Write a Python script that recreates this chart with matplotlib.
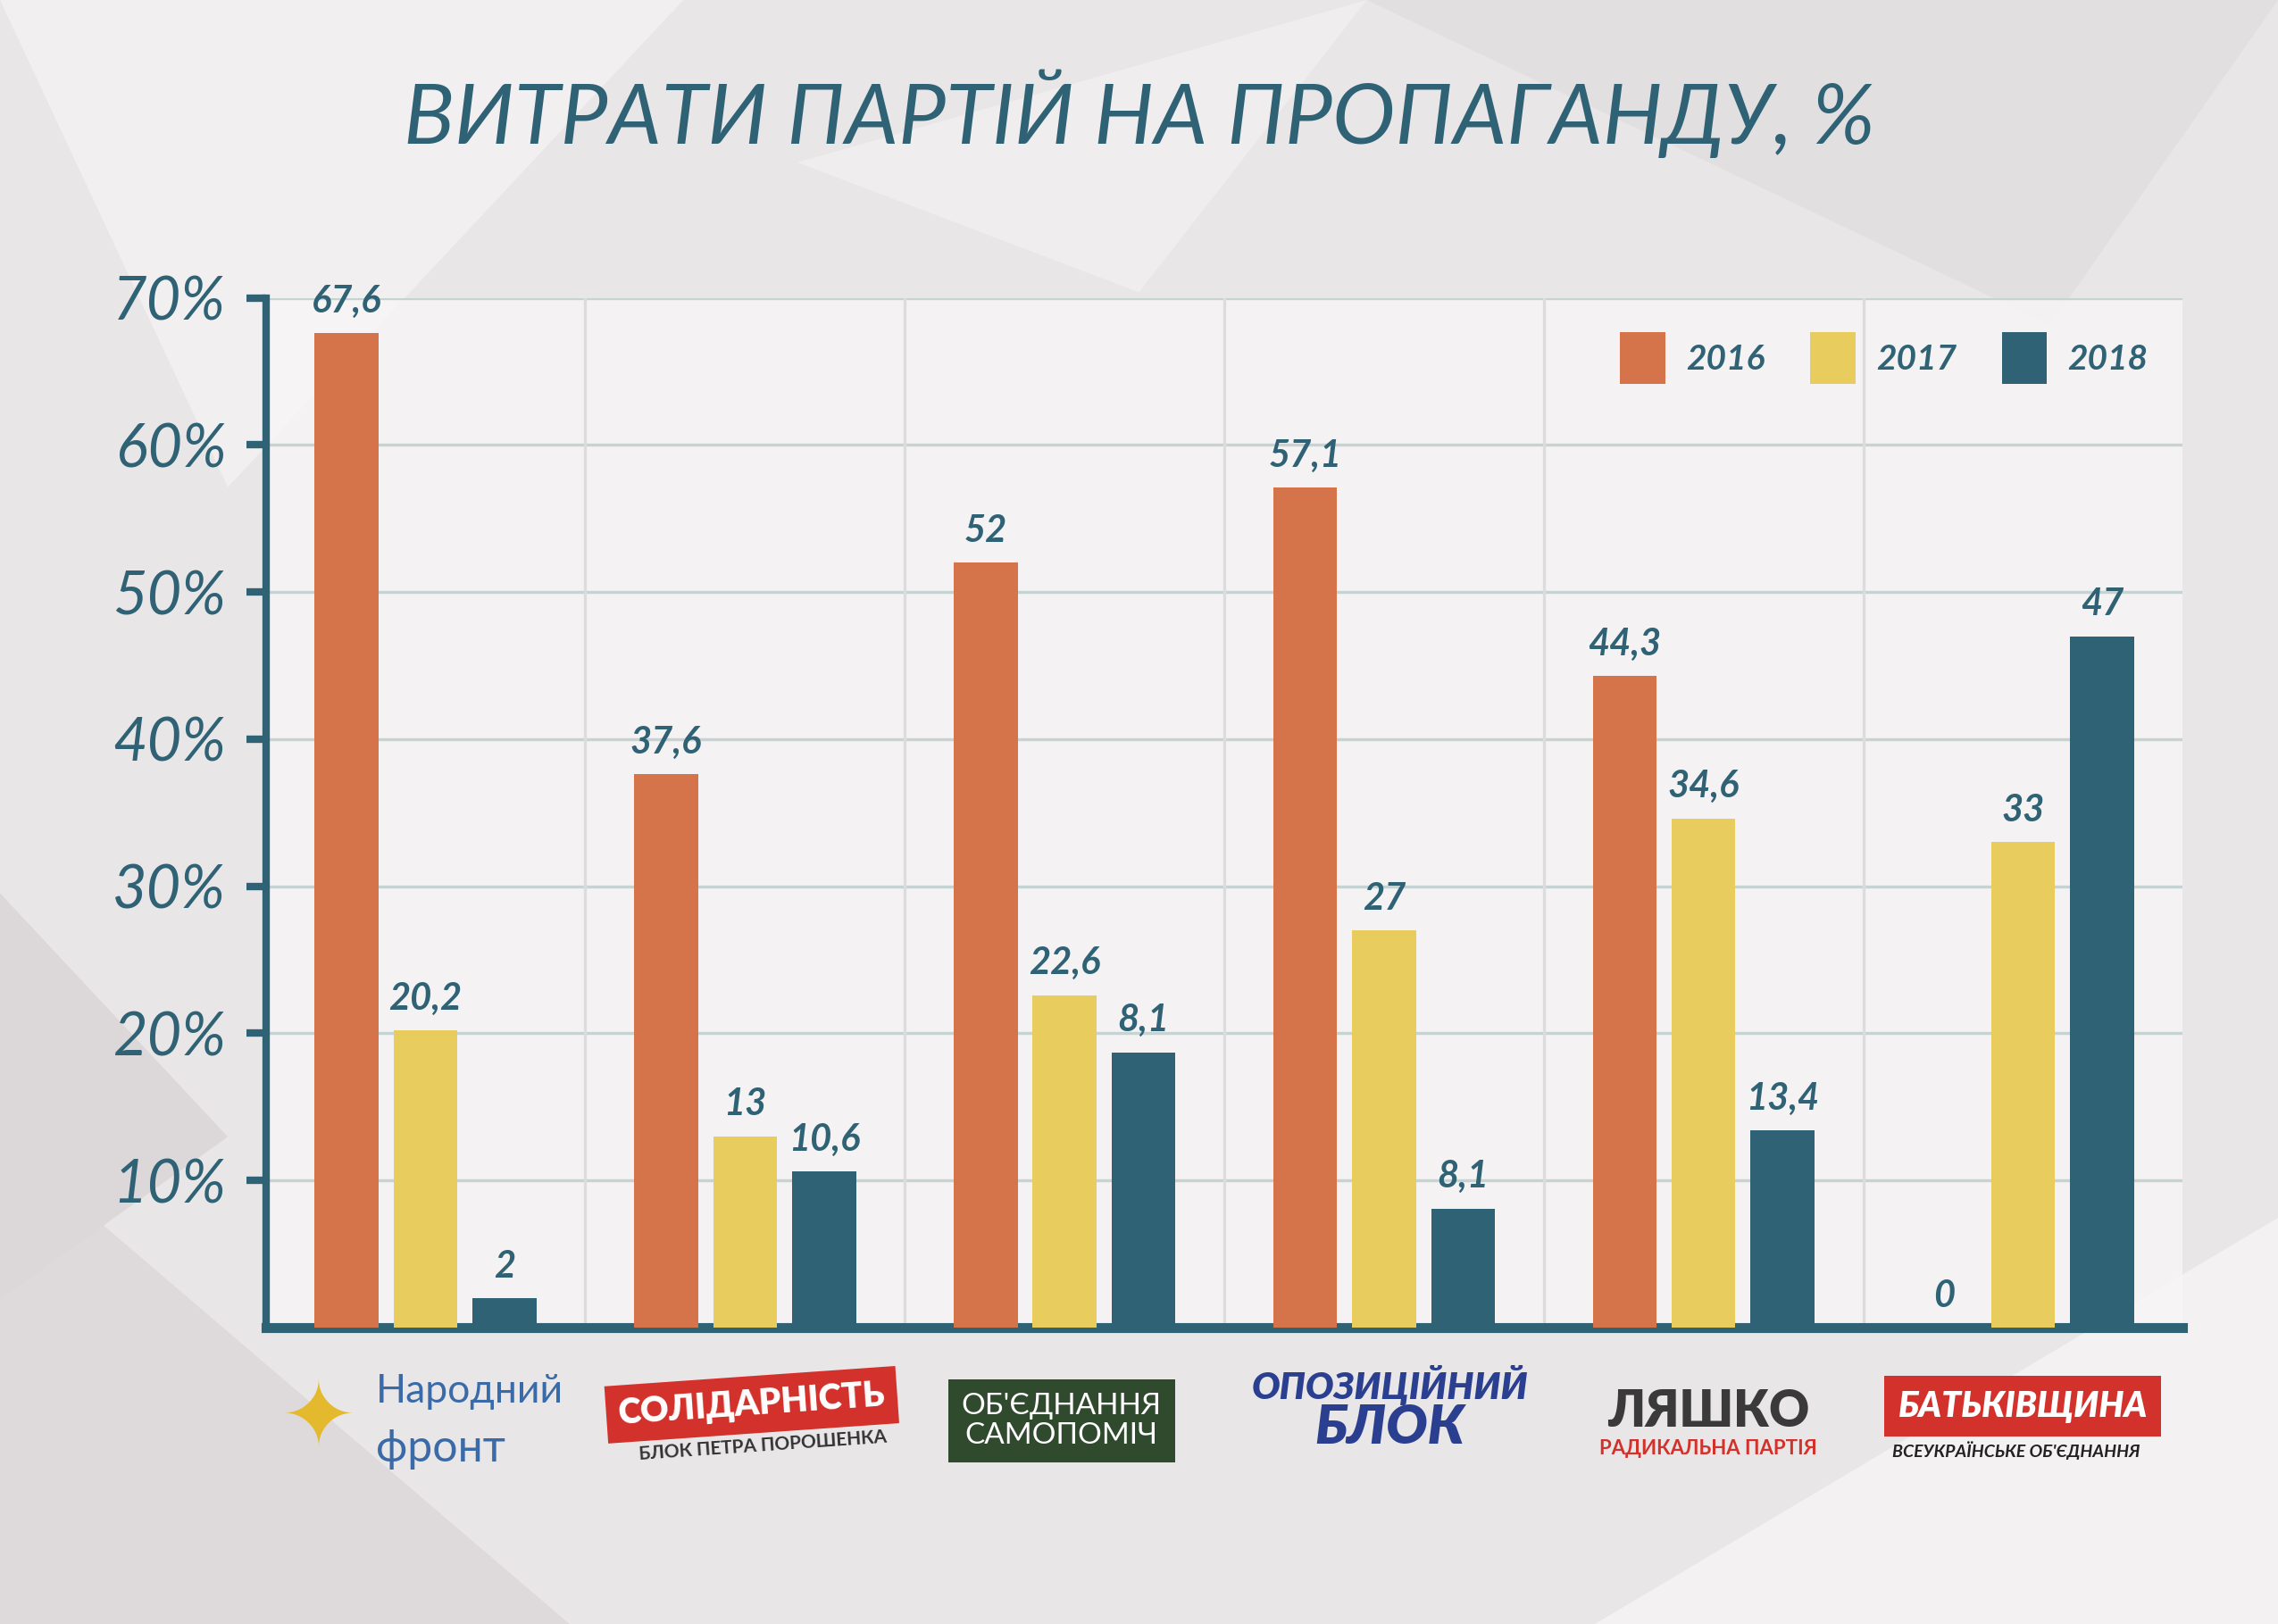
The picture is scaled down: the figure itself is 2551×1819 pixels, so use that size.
import numpy as np
import matplotlib.pyplot as plt
from matplotlib.patches import Polygon

plt.rcParams['font.family'] = ['Lato', 'DejaVu Sans']

parties = ['Народний фронт', 'Солідарність', 'Самопоміч', 'Опозиційний блок', 'Ляшко', 'Батьківщина']
# bar heights as drawn, labels as printed
heights = {
    '2016': [67.6, 37.6, 52, 57.1, 44.3, 0],
    '2017': [20.2, 13, 22.6, 27, 34.6, 33],
    '2018': [2, 10.6, 18.7, 8.1, 13.4, 47],
}
labels = {
    '2016': ['67,6', '37,6', '52', '57,1', '44,3', '0'],
    '2017': ['20,2', '13', '22,6', '27', '34,6', '33'],
    '2018': ['2', '10,6', '8,1', '8,1', '13,4', '47'],
}
colors = {'2016': '#d5734a', '2017': '#e8cd5e', '2018': '#2f6275'}
teal = '#2f6275'

fig = plt.figure(figsize=(12.755, 9.095), dpi=200)
fig.patch.set_facecolor('#e9e6e7')

# faint background polygons
bg = fig.add_axes([0, 0, 1, 1], zorder=-5)
bg.set_xlim(0, 1); bg.set_ylim(0, 1); bg.axis('off')
polys = [
    ([(0, 1), (0.3, 1), (0.1, 0.7)], '#f1eff0'),
    ([(0.6, 1), (1, 1), (0.9, 0.8)], '#e2dfe0'),
    ([(0, 0), (0.25, 0), (0, 0.3)], '#dedadb'),
    ([(0.7, 0), (1, 0), (1, 0.25)], '#f3f1f2'),
    ([(0.35, 0.9), (0.6, 1), (0.5, 0.82)], '#efedee'),
    ([(0, 0.45), (0.1, 0.3), (0, 0.2)], '#dcd8d9'),
]
for pts, c in polys:
    bg.add_patch(Polygon(pts, closed=True, color=c, lw=0))

ax = fig.add_axes([0.1167, 0.1825, 0.8415, 0.6341])
ax.set_facecolor((0.97, 0.96, 0.965, 0.85))
x = np.arange(len(parties))
w = 0.2
for i, yr in enumerate(['2016', '2017', '2018']):
    xs = x + (i - 1) * 0.247
    ax.bar(xs, heights[yr], width=w, color=colors[yr], zorder=3, label=yr)
    for xi, h, lb in zip(xs, heights[yr], labels[yr]):
        ax.text(xi, h + 1.0, lb, ha='center', va='bottom', fontsize=15,
                fontweight='bold', style='italic', color=teal, zorder=4)

ax.set_xlim(-0.5, len(parties) - 0.5)
ax.set_ylim(0, 70)
ax.set_yticks(range(10, 80, 10))
ax.set_yticklabels([f'{v}%' for v in range(10, 80, 10)], fontsize=24,
                   style='italic', color=teal)
ax.set_xticks([])
for v in range(10, 80, 10):
    ax.axhline(v, color='#c5d3d3', lw=1.2, zorder=1)
for b in np.arange(0.5, len(parties) - 0.5):
    ax.axvline(b, color='#dddcdc', lw=1.2, zorder=1)
for s in ['top', 'right']:
    ax.spines[s].set_visible(False)
ax.spines['left'].set_color(teal); ax.spines['left'].set_linewidth(3)
ax.spines['bottom'].set_color(teal); ax.spines['bottom'].set_linewidth(4)
ax.tick_params(axis='y', color=teal, length=8, width=3, pad=8)

ax.legend(loc='upper right', ncol=3, frameon=False,
          prop={'style': 'italic', 'weight': 'bold', 'size': 14},
          labelcolor=teal, handlelength=1.3, handleheight=1.9,
          handletextpad=0.6, columnspacing=1.3, borderaxespad=0.6)

fig.text(0.5, 0.93, 'ВИТРАТИ ПАРТІЙ НА ПРОПАГАНДУ, %', ha='center', va='center',
         fontsize=34, style='italic', color=teal)

# party logos as text
ly = 0.125
fig.text(0.165, 0.143, 'Народний', fontsize=16, color='#3b6aa8', va='center')
fig.text(0.165, 0.108, 'фронт', fontsize=18, color='#3b6aa8', va='center')
fig.text(0.14, 0.125, '✦', fontsize=36, color='#e5b92d', ha='center', va='center',
         family=['DejaVu Sans'])
fig.text(0.33, 0.135, 'СОЛІДАРНІСТЬ', fontsize=14, fontweight='heavy', color='white',
         ha='center', va='center', rotation=4,
         bbox=dict(boxstyle='square,pad=0.35', fc='#d3312b', ec='none'))
fig.text(0.335, 0.11, 'БЛОК ПЕТРА ПОРОШЕНКА', fontsize=7.5, fontweight='bold',
         color='#333333', ha='center', va='center', rotation=4)
fig.text(0.466, ly, 'ОБ\'ЄДНАННЯ\nСАМОПОМІЧ', fontsize=12, color='white',
         ha='center', va='center', linespacing=1.1,
         bbox=dict(boxstyle='square,pad=0.45', fc='#2f4a2c', ec='none'))
fig.text(0.61, 0.147, 'ОПОЗИЦІЙНИЙ', fontsize=15, fontweight='heavy', style='italic',
         color='#2a3f8f', ha='center', va='center')
fig.text(0.61, 0.121, 'БЛОК', fontsize=22, fontweight='heavy', style='italic',
         color='#2a3f8f', ha='center', va='center')
fig.text(0.75, 0.131, 'ЛЯШКО', fontsize=20, fontweight='heavy', color='#3a3a3a',
         ha='center', va='center')
fig.text(0.75, 0.108, 'РАДИКАЛЬНА ПАРТІЯ', fontsize=8, fontweight='bold',
         color='#d3312b', ha='center', va='center')
fig.text(0.888, 0.134, 'БАТЬКІВЩИНА', fontsize=14, fontweight='heavy', style='italic',
         color='white', ha='center', va='center',
         bbox=dict(boxstyle='square,pad=0.4', fc='#d3312b', ec='none'))
fig.text(0.885, 0.107, 'ВСЕУКРАЇНСЬКЕ ОБ\'ЄДНАННЯ', fontsize=7, fontweight='bold',
         style='italic', color='#222222', ha='center', va='center')

fig.savefig('out.png', dpi=200, facecolor=fig.get_facecolor())
